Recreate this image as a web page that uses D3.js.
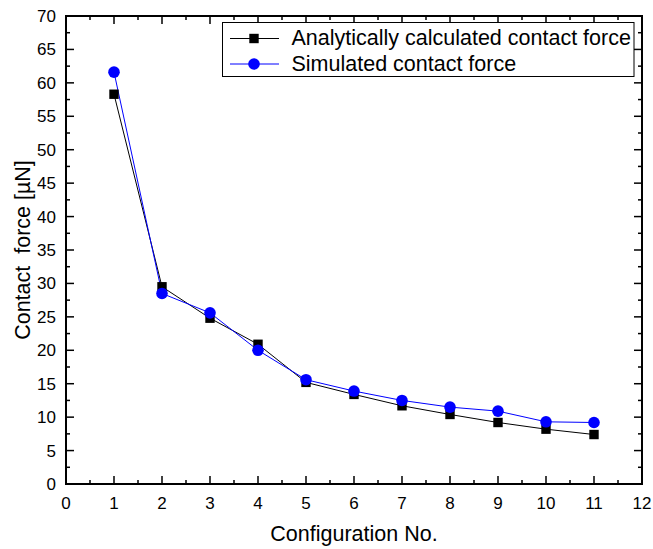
<!DOCTYPE html>
<html>
<head>
<meta charset="utf-8">
<script src="https://cdn.jsdelivr.net/npm/d3@7"></script>
<style>
  html, body { margin: 0; padding: 0; background: #fff; }
  svg { display: block; font-family: "Liberation Sans", Arial, sans-serif; }
</style>
</head>
<body>
<svg id="chart" width="653" height="549"></svg>
<script>
// Configuration numbers and contact forces (µN)
const configs = [1, 2, 3, 4, 5, 6, 7, 8, 9, 10, 11];
const analytical = [58.3, 29.5, 24.8, 20.9, 15.2, 13.4, 11.7, 10.4, 9.2, 8.2, 7.4];
const simulated = [61.6, 28.5, 25.6, 20.0, 15.6, 13.9, 12.5, 11.5, 10.9, 9.3, 9.2];
const xTicks = [0, 1, 2, 3, 4, 5, 6, 7, 8, 9, 10, 11, 12];
const yTicks = [0, 5, 10, 15, 20, 25, 30, 35, 40, 45, 50, 55, 60, 65, 70];
const seriesNames = ["Analytically calculated contact force", "Simulated contact force"];

const svg = d3.select("#chart");
const pLeft = 66, pRight = 642, pTop = 16, pBottom = 484;

const x = d3.scaleLinear().domain([0, 12]).range([pLeft, pRight]);
const y = d3.scaleLinear().domain([0, 70]).range([pBottom, pTop]);

const xMinor = d3.range(0.5, 12, 1);
const yMinor = d3.range(2.5, 70, 5);

// Inward ticks on all four sides
const tg = svg.append("g").attr("stroke", "#000").attr("stroke-width", 1.5);
function vt(v, len, base, dir) {
  tg.append("line").attr("x1", x(v)).attr("x2", x(v))
    .attr("y1", base).attr("y2", base + dir * len);
}
function ht(v, len, base, dir) {
  tg.append("line").attr("y1", y(v)).attr("y2", y(v))
    .attr("x1", base).attr("x2", base + dir * len);
}
xTicks.forEach(v => { vt(v, 8, pBottom, -1); vt(v, 8, pTop, 1); });
xMinor.forEach(v => { vt(v, 4, pBottom, -1); vt(v, 4, pTop, 1); });
yTicks.forEach(v => { ht(v, 8, pLeft, 1); ht(v, 8, pRight, -1); });
yMinor.forEach(v => { ht(v, 4, pLeft, 1); ht(v, 4, pRight, -1); });

// Frame
svg.append("rect").attr("x", pLeft).attr("y", pTop)
  .attr("width", pRight - pLeft).attr("height", pBottom - pTop)
  .attr("fill", "none").attr("stroke", "#000").attr("stroke-width", 2);

// Tick labels
svg.append("g").selectAll("text").data(xTicks).join("text")
  .attr("x", d => x(d)).attr("y", 509)
  .attr("text-anchor", "middle").attr("font-size", 17).text(d => d);
svg.append("g").selectAll("text").data(yTicks).join("text")
  .attr("x", 56).attr("y", d => y(d) + 6)
  .attr("text-anchor", "end").attr("font-size", 17).text(d => d);

// Axis titles
svg.append("text").attr("x", x(6)).attr("y", 540.5)
  .attr("text-anchor", "middle").attr("font-size", 21.5).text("Configuration No.");
svg.append("text")
  .attr("transform", `translate(29.5,${(pTop + pBottom) / 2}) rotate(-90)`)
  .attr("text-anchor", "middle").attr("font-size", 21.5)
  .style("white-space", "pre")
  .text("Contact  force [µN]");

// Series
const line = d3.line().x((d, i) => x(configs[i])).y(d => y(d));
svg.append("path").datum(analytical).attr("d", line)
  .attr("fill", "none").attr("stroke", "#000").attr("stroke-width", 1);
svg.append("path").datum(simulated).attr("d", line)
  .attr("fill", "none").attr("stroke", "#0000ff").attr("stroke-width", 1);

svg.append("g").selectAll("rect").data(analytical).join("rect")
  .attr("x", (d, i) => x(configs[i]) - 4.7).attr("y", d => y(d) - 4.7)
  .attr("width", 9.4).attr("height", 9.4).attr("fill", "#000");
svg.append("g").selectAll("circle").data(simulated).join("circle")
  .attr("cx", (d, i) => x(configs[i])).attr("cy", d => y(d))
  .attr("r", 5.8).attr("fill", "#0000ff");

// Legend
const lg = svg.append("g");
lg.append("rect").attr("x", 222.5).attr("y", 22.5).attr("width", 411.5).attr("height", 54)
  .attr("fill", "#fff").attr("stroke", "#000").attr("stroke-width", 1);
const rows = [
  { name: seriesNames[0], color: "#000", shape: "square", yy: 38.5 },
  { name: seriesNames[1], color: "#0000ff", shape: "circle", yy: 64 }
];
rows.forEach(r => {
  lg.append("line").attr("x1", 230).attr("x2", 279).attr("y1", r.yy).attr("y2", r.yy)
    .attr("stroke", r.color).attr("stroke-width", 1);
  if (r.shape === "square") {
    lg.append("rect").attr("x", 254 - 4.7).attr("y", r.yy - 4.7)
      .attr("width", 9.4).attr("height", 9.4).attr("fill", r.color);
  } else {
    lg.append("circle").attr("cx", 254).attr("cy", r.yy).attr("r", 5.8).attr("fill", r.color);
  }
  lg.append("text").attr("x", 291.5).attr("y", r.yy + 6.5)
    .attr("font-size", 21.5).text(r.name);
});
</script>
</body>
</html>
